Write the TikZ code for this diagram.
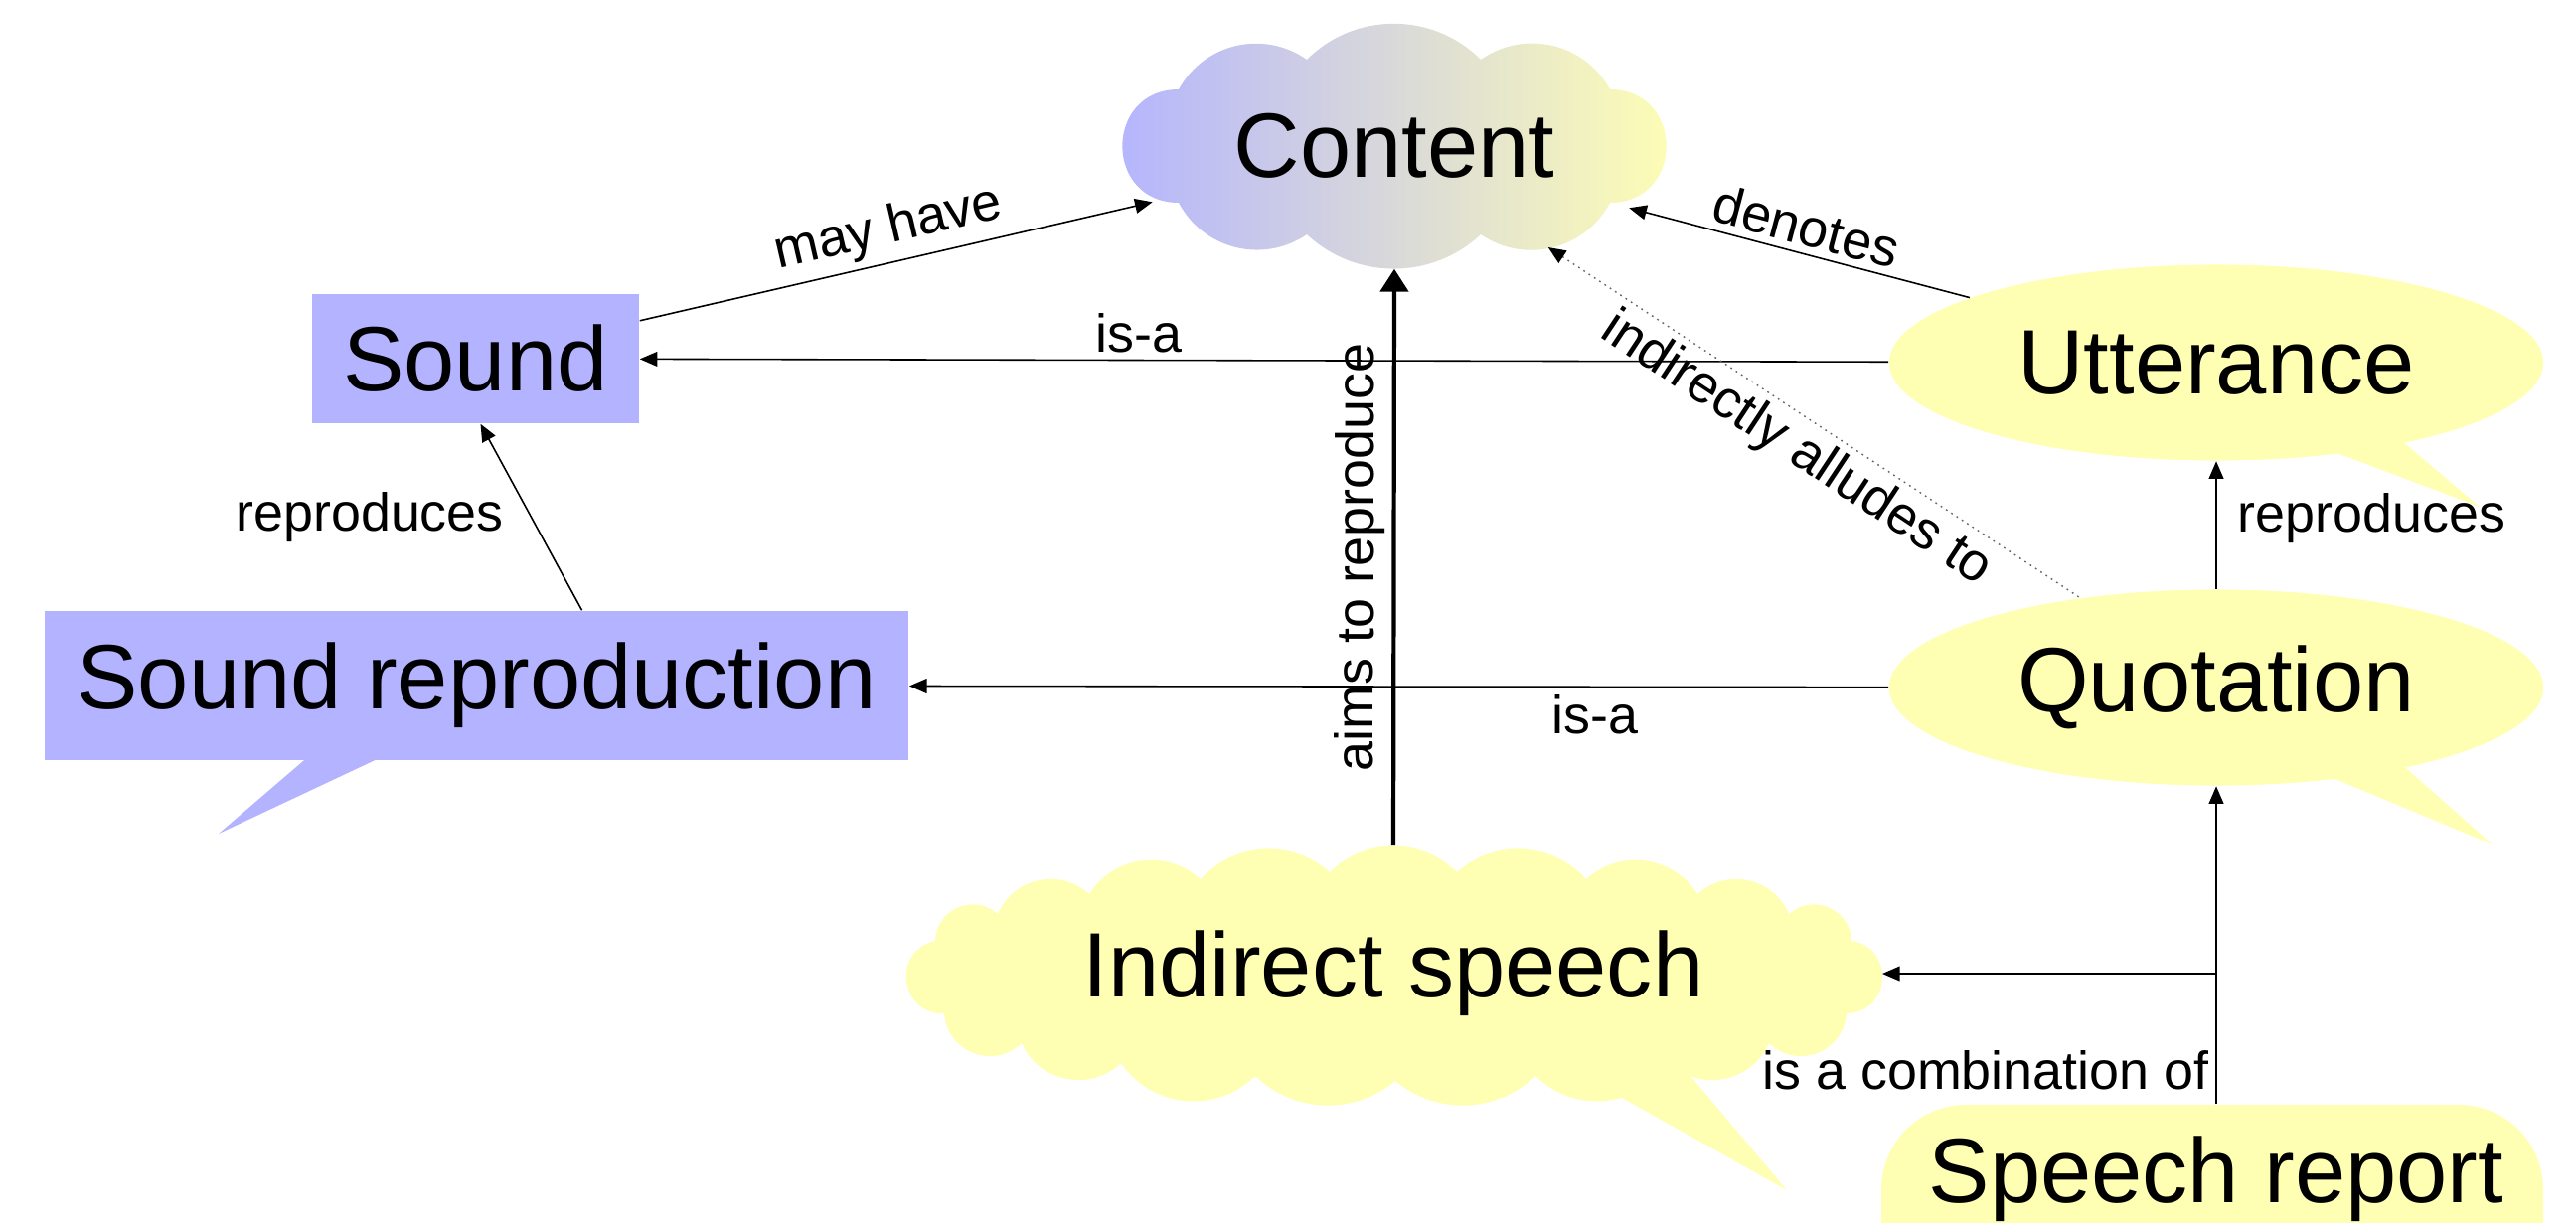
\documentclass[tikz,border=0pt]{standalone}
\usepackage{fontspec}
\setmainfont{Liberation Sans}
\usetikzlibrary{shapes.geometric,arrows.meta,calc}
\definecolor{cblue}{RGB}{179,179,255}
\definecolor{cyellow}{RGB}{255,255,179}
\newcommand\BigLbl{\fontsize{26.2pt}{31pt}\selectfont}
\newcommand\SmallLbl{\fontsize{15.3pt}{18pt}\selectfont}
\begin{document}
\begin{tikzpicture}[x=0.01cm, y=-0.01cm,
  arr/.style={line width=0.45pt, -{Triangle[length=5pt,width=4.2pt]}},
  bigarr/.style={line width=1.2pt, -{Triangle[length=6.5pt,width=8pt]}},
  dotarr/.style={line width=0.4pt, draw=black!60, dash pattern=on 0.5pt off 1.3pt, {Triangle[length=5pt,width=4.2pt,color=black]}-},
  lbl/.style={font=\SmallLbl, inner sep=2pt},
  big/.style={font=\BigLbl, inner sep=0pt},
  pf/.style 2 args={bend left=#1, looseness=#2}]
\useasboundingbox (0,0) rectangle (2592,1230);

% Content cloud (gradient)
\shade[left color=cblue, right color=cyellow]
 (1186,204) to[pf={90}{1.7}] (1186,90) to[pf={48}{1.03}] (1315,60)
 to[pf={45}{1}] (1490,60) to[pf={48}{1.03}] (1620,90)
 to[pf={90}{1.7}] (1620,204) to[pf={48}{1.03}] (1490,236)
 to[pf={43}{0.99}] (1315,236) to[pf={48}{1.03}] (1186,204) -- cycle;

% Indirect speech cloud and its tail
\fill[cyellow] (1591,1082) -- (1690,1070) -- (1798,1198) -- cycle;
\fill[cyellow] (941,947) to[pf={65}{1.2}] (1004,920) to[pf={55}{1.08}] (1096,900)
 to[pf={50}{1.04}] (1208,885) to[pf={45}{1}] (1338,878) to[pf={45}{1}] (1466,878)
 to[pf={45}{1}] (1596,885) to[pf={50}{1.04}] (1708,900) to[pf={55}{1.08}] (1800,920)
 to[pf={65}{1.2}] (1863,947) to[pf={85}{1.57}] (1858,1020)
 to[pf={65}{1.2}] (1780,1050) to[pf={55}{1.08}] (1680,1070) to[pf={50}{1.04}] (1545,1083)
 to[pf={42}{0.98}] (1404,1088) to[pf={42}{0.98}] (1263,1083) to[pf={50}{1.04}] (1128,1070)
 to[pf={55}{1.08}] (1028,1050) to[pf={65}{1.2}] (950,1020) to[pf={85}{1.57}] (941,947) -- cycle;

% callout tails
\fill[cyellow] (2306,439) -- (2398,428) -- (2495,510) -- cycle;
\fill[cyellow] (2316,770) -- (2404,758) -- (2508,850) -- cycle;
\fill[cblue] (312,760) -- (388,760) -- (220,839) -- cycle;
% speech report body
\fill[cyellow, rounded corners=0.85cm] (1893,1112) rectangle (2559,1420);

% nodes
\node[big, ellipse, minimum width=5.45cm, minimum height=2.46cm] (content) at (1403,147) {Content};
\node[big, fill=cblue, minimum width=3.29cm, minimum height=1.30cm] (sound) at (478.5,361) {Sound};
\node[big, fill=cblue, minimum width=8.69cm, minimum height=1.50cm] (srep) at (479.5,690) {Sound reproduction};
\node[big, ellipse, fill=cyellow, minimum width=6.58cm, minimum height=1.97cm] (utt) at (2230,365) {Utterance};
\node[big, ellipse, fill=cyellow, minimum width=6.58cm, minimum height=1.97cm] (quo) at (2230,692) {Quotation};
\node[big, minimum width=9.82cm, minimum height=2.56cm] (ind) at (1402,980) {Indirect speech};
\node[big, minimum width=6cm, minimum height=1.50cm] (sr) at (2230,1187) {Speech report};

% connectors
\draw[arr] (sound) -- (content) node[lbl, midway, sloped, above] {may have};
\draw[arr] (utt) -- (content) node[lbl, midway, sloped, above] {denotes};
\draw[arr] (utt) -- (sound) node[lbl, pos=0.6, above] {is-a};
\draw[arr] (quo) -- (srep) node[lbl, pos=0.3, below] {is-a};
\draw[bigarr] (ind.north) -- (content.south) node[lbl, midway, sloped, above] {aims to reproduce};
\draw[dotarr] (content) -- (quo) node[lbl, midway, sloped, below] {indirectly alludes to};
\draw[arr] ([xshift=1.06cm]srep.north) -- ([xshift=0.05cm]sound.south) node[lbl, midway, left=0.2cm] {reproduces};
\draw[arr] (quo.north) -- (utt.south) node[lbl, pos=0.55, right=0.14cm] {reproduces};
\draw[arr] (sr.north) -- (quo.south) node[lbl, pos=0.106, left] {is a combination of};
\draw[arr] (sr.north |- ind.east) -- (ind.east);
\end{tikzpicture}
\end{document}
